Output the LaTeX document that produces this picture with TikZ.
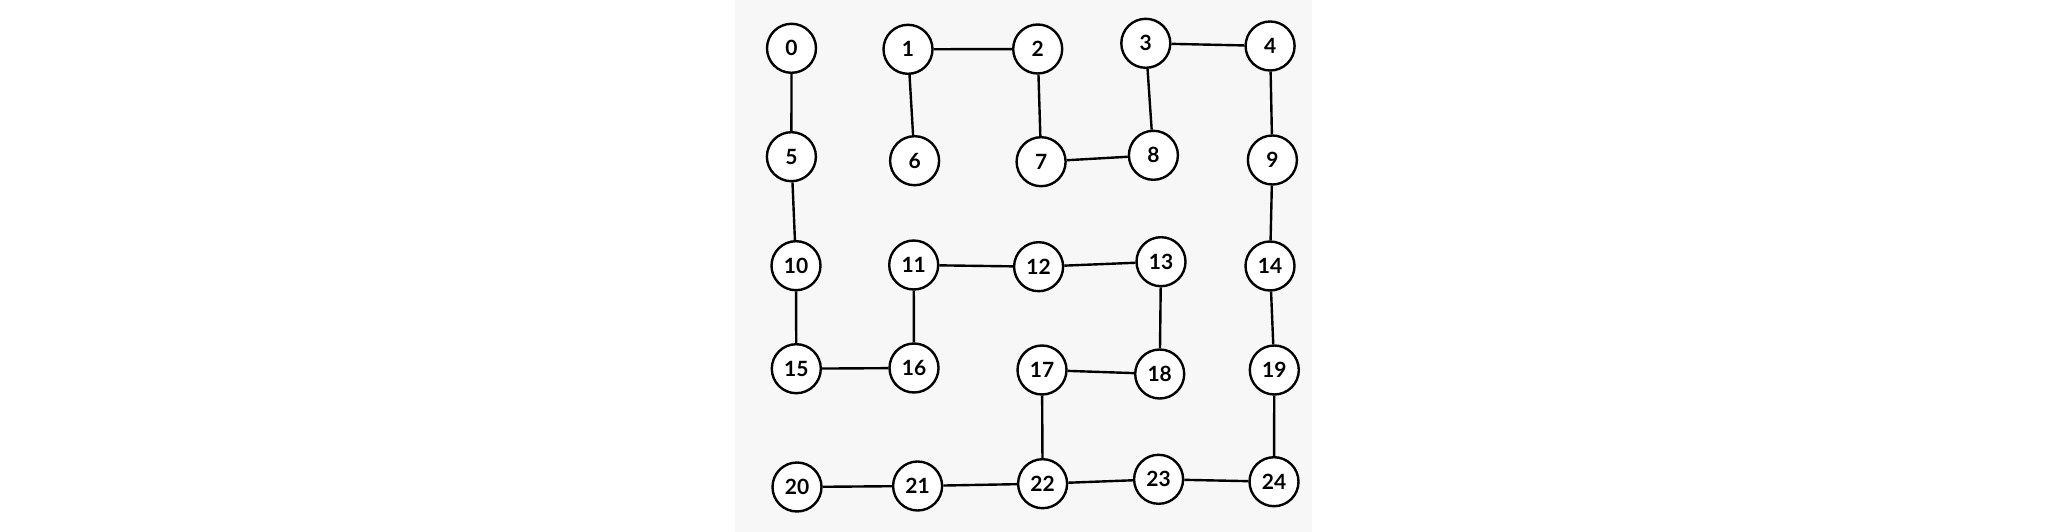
\documentclass[tikz,border=0pt]{standalone}
\usepackage{fontspec}
\setmainfont{Lato}
\definecolor{panelgray}{HTML}{F7F7F7}
\tikzset{
  vtx/.style={circle, draw=black, line width=2.4pt, fill=white, minimum size=49pt, inner sep=0pt,
    font=\fontsize{21}{21}\selectfont\bfseries},
  link/.style={draw=black, line width=2.4pt}
}
\begin{document}
\begin{tikzpicture}[x=1pt,y=-1pt]
\fill[white] (0,0) rectangle (2048,532);
\fill[panelgray] (734.5,0) rectangle (1311.7,532);
\useasboundingbox (0,0) rectangle (2048,532);
\node[vtx] (n0) at (791.5,48.3) {0};
\node[vtx] (n1) at (908.0,49.3) {1};
\node[vtx] (n2) at (1037.7,49.0) {2};
\node[vtx] (n3) at (1145.8,43.3) {3};
\node[vtx] (n4) at (1270.1,46.0) {4};
\node[vtx] (n5) at (791.4,156.7) {5};
\node[vtx] (n6) at (914.6,160.7) {6};
\node[vtx] (n7) at (1041.1,161.7) {7};
\node[vtx] (n8) at (1153.4,155.3) {8};
\node[vtx] (n9) at (1272.4,160.0) {9};
\node[vtx] (n10) at (796.0,265.7) {10};
\node[vtx] (n11) at (913.7,265.0) {11};
\node[vtx] (n12) at (1038.6,266.7) {12};
\node[vtx] (n13) at (1161.0,261.7) {13};
\node[vtx] (n14) at (1270.0,266.0) {14};
\node[vtx] (n15) at (796.3,368.7) {15};
\node[vtx] (n16) at (914.0,368.0) {16};
\node[vtx] (n17) at (1042.0,370.0) {17};
\node[vtx] (n18) at (1159.7,374.0) {18};
\node[vtx] (n19) at (1274.3,370.0) {19};
\node[vtx] (n20) at (797.0,487.0) {20};
\node[vtx] (n21) at (917.6,486.0) {21};
\node[vtx] (n22) at (1042.6,483.7) {22};
\node[vtx] (n23) at (1158.6,479.3) {23};
\node[vtx] (n24) at (1274.0,481.7) {24};
\draw[link] (n0) -- (n5);
\draw[link] (n5) -- (n10);
\draw[link] (n10) -- (n15);
\draw[link] (n15) -- (n16);
\draw[link] (n16) -- (n11);
\draw[link] (n11) -- (n12);
\draw[link] (n12) -- (n13);
\draw[link] (n13) -- (n18);
\draw[link] (n18) -- (n17);
\draw[link] (n17) -- (n22);
\draw[link] (n22) -- (n21);
\draw[link] (n21) -- (n20);
\draw[link] (n22) -- (n23);
\draw[link] (n23) -- (n24);
\draw[link] (n24) -- (n19);
\draw[link] (n19) -- (n14);
\draw[link] (n14) -- (n9);
\draw[link] (n9) -- (n4);
\draw[link] (n4) -- (n3);
\draw[link] (n3) -- (n8);
\draw[link] (n8) -- (n7);
\draw[link] (n7) -- (n2);
\draw[link] (n2) -- (n1);
\draw[link] (n1) -- (n6);
\end{tikzpicture}
\end{document}
